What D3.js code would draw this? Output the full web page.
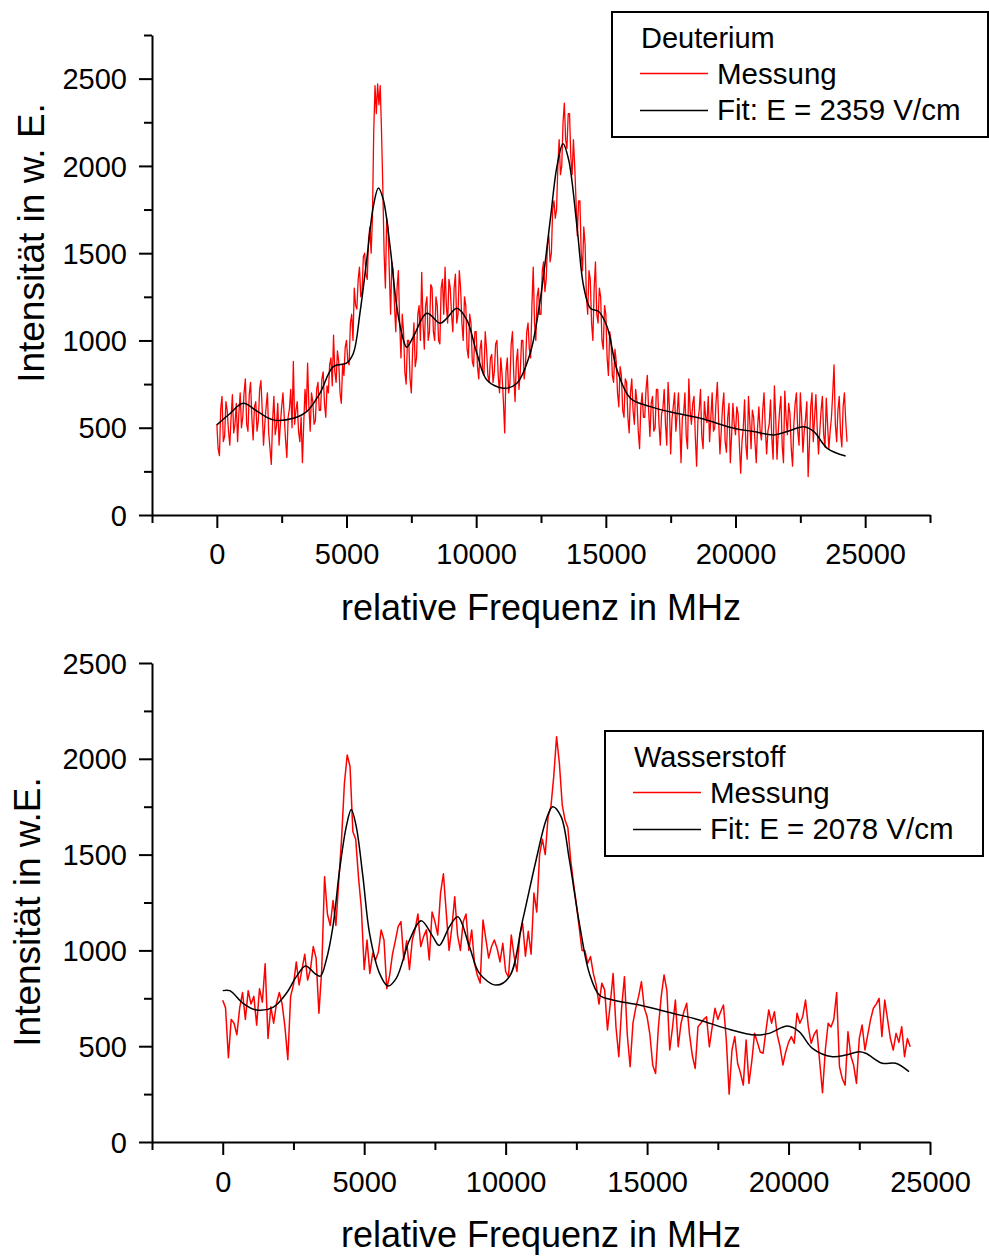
<!DOCTYPE html>
<html><head><meta charset="utf-8">
<script src="https://cdn.jsdelivr.net/npm/d3@7"></script>
<style>
body{margin:0;background:#fff;}
svg{display:block;font-family:"Liberation Sans",Arial,sans-serif;}
</style></head>
<body>
<script>
// ---------- DATA ----------
// Deuterium measurement (red): one value every 50 MHz starting at 0 MHz
const deutStart = 0, deutStep = 50;
const deutMessung = [
520,380,340,610,680,420,450,650,600,480,400,560,690,470,520,640,420,580,700,500,
560,700,780,520,480,690,760,560,430,620,650,480,540,720,770,600,400,520,620,700,
470,380,290,540,680,460,510,640,400,520,620,700,560,430,330,560,610,720,500,880,
520,600,650,480,420,560,300,520,720,600,870,620,480,700,650,520,540,720,760,600,
600,780,820,640,560,740,700,860,900,740,1030,820,760,940,880,700,640,860,800,960,
1000,880,860,1100,1150,1000,1300,1200,1180,1350,1420,1250,1280,1480,1500,1380,1350,1580,1650,1500,
1700,2200,2460,2300,2470,2350,2460,2200,1880,1500,1300,1700,1650,1400,1150,1450,1400,1200,1050,1300,
1400,1100,900,1150,1050,820,750,1000,1000,780,700,950,1100,850,900,1150,1200,1000,1390,1100,
950,1200,1250,1000,1050,1320,1300,1050,1000,1250,1200,1000,980,1300,1350,1150,1420,1200,1100,1350,
1300,1150,1050,1300,1380,1100,1150,1400,1300,1100,1000,1250,1200,950,900,1150,1100,880,850,1050,
1050,850,780,950,1000,820,800,1050,950,800,760,900,920,760,820,980,1000,800,700,900,
800,650,470,820,900,700,750,980,1050,800,650,880,950,720,820,1000,1000,780,850,1050,
1100,950,900,1200,1420,1100,1000,1250,1300,1150,1150,1400,1450,1280,1350,1550,1600,1450,1500,1750,
1800,1700,1750,2000,2150,1950,2000,2250,2360,2150,2100,2300,2300,2050,1950,2150,2000,1800,1600,1800,
1800,1500,1400,1650,1550,1250,1150,1400,1350,1100,1000,1300,1450,1150,1100,1300,1250,1000,950,1200,
1150,900,800,1050,1000,800,760,950,880,700,620,850,800,600,560,780,760,560,470,700,
780,600,520,720,650,480,380,620,700,560,560,720,800,600,450,640,680,480,500,720,
720,520,400,580,610,720,520,400,760,620,350,550,620,700,480,580,700,520,300,560,
580,700,450,380,780,600,520,640,680,450,280,540,600,720,450,380,650,560,530,680,
420,560,700,480,500,650,760,540,350,480,620,700,420,360,560,640,300,460,640,520,
460,620,580,400,240,420,500,660,400,320,680,540,380,600,560,420,300,500,620,480,
430,600,700,500,350,480,520,660,440,320,740,560,320,480,600,680,400,300,710,560,
460,640,580,380,280,520,640,700,480,400,700,560,360,480,550,650,220,400,620,700,
420,560,690,500,350,480,600,680,460,390,670,520,380,480,560,700,860,520,420,600,
680,470,390,620,700,540,420
];

// Deuterium fit (black)
const deutFitFreq = [0,500,1015,1600,2175,2950,3460,3977,4490,5000,5265,5520,5780,6035,6230,6420,6680,6938,7195,7322,7580,8095,8610,8868,9254,9640,10027,10413,11055,11570,12085,12470,12857,13115,13347,13565,13887,14145,14402,14724,15046,15432,15946,16718,17500,18650,19935,20700,21480,21995,22637,23024,23540,24247];
const deutFitVal  = [516,580,640,590,545,554,592,698,850,870,927,1158,1462,1768,1873,1806,1538,1194,1003,961,1022,1156,1099,1127,1185,1118,927,774,726,755,927,1233,1691,1997,2127,2036,1653,1309,1185,1166,1080,831,669,621,590,554,497,478,459,478,506,478,382,338];

// Wasserstoff measurement (red): one value every 100 MHz starting at 0 MHz
const wasStart = 0, wasStep = 100;
const wasMessung = [
740,700,440,640,620,560,700,780,640,790,
720,760,610,800,730,930,540,706,620,724,
780,720,600,430,760,820,940,820,900,980,
845,900,1020,960,672,900,1385,1190,1130,1260,
1130,1360,1580,1870,2020,1960,1620,1580,1380,1220,
900,1054,880,985,950,990,1107,1054,800,870,
980,1050,1124,1150,950,1050,900,1054,1110,1190,
1020,1072,1107,950,1200,1150,1080,1300,1400,1200,
1000,1120,1280,1080,1000,1150,1190,1000,1107,933,
870,830,1159,1060,960,1020,1054,1010,940,1037,
890,860,1080,968,890,1080,1141,970,1100,980,
1300,1200,1500,1580,1500,1698,1750,1907,2115,1976,
1760,1680,1640,1470,1350,1240,1120,1000,1000,933,
968,880,820,720,829,794,585,724,880,600,
445,700,863,560,393,620,700,760,837,700,
654,560,400,358,600,760,872,790,480,600,
741,497,620,680,724,560,450,384,602,620,
640,654,497,600,698,640,680,715,533,250,
480,550,411,360,297,533,306,420,567,520,
470,463,580,689,620,680,560,497,402,470,
520,550,515,672,620,654,741,600,515,560,
585,420,257,480,620,600,640,780,393,330,
297,576,450,402,306,540,611,480,560,640,
698,720,750,550,741,640,540,480,567,520,
602,445,540,497
];

// Wasserstoff fit (black)
const wasFitFreq = [0,247,718,1190,1777,2249,2602,2930,3250,3450,3660,3895,4131,4367,4544,4720,4955,5190,5544,5837,6133,6603,7016,7427,7650,8015,8310,8722,9075,9664,10134,10604,11077,11430,11663,11960,12253,12606,12960,13312,13782,14725,15900,16843,17786,18845,19315,19962,20374,20844,21550,22023,22493,22729,23316,23789,24258];
const wasFitVal  = [790,790,724,689,703,776,863,919,880,866,950,1124,1420,1646,1736,1646,1385,1089,880,814,854,1054,1155,1072,1026,1124,1176,1019,880,819,863,1159,1472,1681,1750,1698,1472,1141,880,767,741,715,672,637,593,558,567,605,576,489,445,454,471,463,411,411,367];

// tick values
const xMajorTicks = [0,5000,10000,15000,20000,25000];
const topXMinorTicks = [-2500,2500,7500,12500,17500,22500,27500];
const botXMinorTicks = [-2500,2500,7500,12500,17500,22500];
const yMajorTicks = [0,500,1000,1500,2000,2500];
const topYMinorTicks = [250,750,1250,1750,2250,2750];
const botYMinorTicks = [250,750,1250,1750,2250];

const xTitle = "relative Frequenz in MHz";

// ---------- DRAW ----------
const W = 989, H = 1258;
const svg = d3.select("body").append("svg").attr("width", W).attr("height", H);

function panel(cfg){
  const g = svg.append("g");
  const x = d3.scaleLinear().domain(cfg.xDomain).range([152, 930]);
  const y = d3.scaleLinear().domain(cfg.yDomain).range([cfg.bottom, cfg.top]);

  const cid = "clip" + cfg.id;
  svg.append("clipPath").attr("id", cid).append("rect")
    .attr("x", 152).attr("y", cfg.top).attr("width", 778).attr("height", cfg.bottom - cfg.top);

  const meas = cfg.meas.map((v,i)=>[cfg.start + i*cfg.step, v]);
  const fit = cfg.fitF.map((f,i)=>[f, cfg.fitV[i]]);

  g.append("path").datum(meas)
    .attr("clip-path", `url(#${cid})`)
    .attr("fill","none").attr("stroke","#ff0000").attr("stroke-width",cfg.redW)
    .attr("stroke-linejoin","round")
    .attr("d", d3.line().x(d=>x(d[0])).y(d=>y(d[1])));

  g.append("path").datum(fit)
    .attr("clip-path", `url(#${cid})`)
    .attr("fill","none").attr("stroke","#000").attr("stroke-width",1.5)
    .attr("d", d3.line().curve(d3.curveCatmullRom.alpha(0.5)).x(d=>x(d[0])).y(d=>y(d[1])));

  const ax = g.append("g").attr("transform",`translate(0,${cfg.bottom})`)
    .call(d3.axisBottom(x).tickValues(xMajorTicks).tickSize(13).tickSizeOuter(0).tickFormat(d3.format("d")));
  ax.append("g").call(d3.axisBottom(x).tickValues(cfg.xMinor).tickSize(8).tickFormat(""))
    .select(".domain").remove();
  const ay = g.append("g").attr("transform","translate(152,0)")
    .call(d3.axisLeft(y).tickValues(yMajorTicks).tickSize(13).tickSizeOuter(0).tickFormat(d3.format("d")));
  ay.append("g").call(d3.axisLeft(y).tickValues(cfg.yMinor).tickSize(8).tickFormat(""))
    .select(".domain").remove();

  [ax, ay].forEach(a=>{
    a.selectAll(".domain").attr("stroke","#000").attr("stroke-width",2);
    a.selectAll(".tick line").attr("stroke","#000").attr("stroke-width",2);
    a.selectAll(".tick text").attr("fill","#000").style("font-size","29px")
      .style("font-family",'"Liberation Sans",Arial,sans-serif');
  });
  ax.selectAll(".tick text").attr("y", cfg.xLabelOffset).attr("dy","0.71em");
  ay.selectAll(".tick text").attr("x", -25).attr("dy","0.35em");

  g.append("text").attr("x", 541).attr("y", cfg.xTitleY).attr("text-anchor","middle")
    .style("font-size","36px").text(xTitle);
  g.append("text").attr("transform",`translate(${cfg.yTitleX},${cfg.yTitleY}) rotate(-90)`)
    .attr("text-anchor","middle").style("font-size","37px").text(cfg.yTitle);

  const L = cfg.legend;
  g.append("rect").attr("x",L.x).attr("y",L.y).attr("width",L.w).attr("height",L.h)
    .attr("fill","#fff").attr("stroke","#000").attr("stroke-width",2);
  g.append("text").attr("x",L.x+29).attr("y",L.y+36).style("font-size","29px").text(L.title);
  g.append("line").attr("x1",L.x+28).attr("x2",L.x+96).attr("y1",L.y+61.5).attr("y2",L.y+61.5)
    .attr("stroke","#ff0000").attr("stroke-width",1.3);
  g.append("text").attr("x",L.x+105).attr("y",L.y+72).style("font-size","29.5px").text("Messung");
  g.append("line").attr("x1",L.x+28).attr("x2",L.x+96).attr("y1",L.y+98.5).attr("y2",L.y+98.5)
    .attr("stroke","#000").attr("stroke-width",1.3);
  g.append("text").attr("x",L.x+105).attr("y",L.y+108).style("font-size","29.5px").text(L.fit);
}

panel({
  id:"top", xDomain:[-2500,27500], yDomain:[0,2750], top:35, bottom:515,
  meas:deutMessung, start:deutStart, step:deutStep, redW:1.3,
  fitF:deutFitFreq, fitV:deutFitVal,
  xMinor:topXMinorTicks, yMinor:topYMinorTicks,
  xLabelOffset:28, xTitleY:620, yTitleX:44, yTitleY:243,
  yTitle:"Intensität in w. E.",
  legend:{x:612,y:12,w:376,h:125,title:"Deuterium",fit:"Fit: E = 2359 V/cm"}
});
panel({
  id:"bot", xDomain:[-2500,25000], yDomain:[0,2500], top:663, bottom:1142,
  meas:wasMessung, start:wasStart, step:wasStep, redW:1.5,
  fitF:wasFitFreq, fitV:wasFitVal,
  xMinor:botXMinorTicks, yMinor:botYMinorTicks,
  xLabelOffset:29, xTitleY:1247, yTitleX:40, yTitleY:912,
  yTitle:"Intensität in w.E.",
  legend:{x:605,y:731,w:378,h:125,title:"Wasserstoff",fit:"Fit: E = 2078 V/cm"}
});
</script>
</body></html>
